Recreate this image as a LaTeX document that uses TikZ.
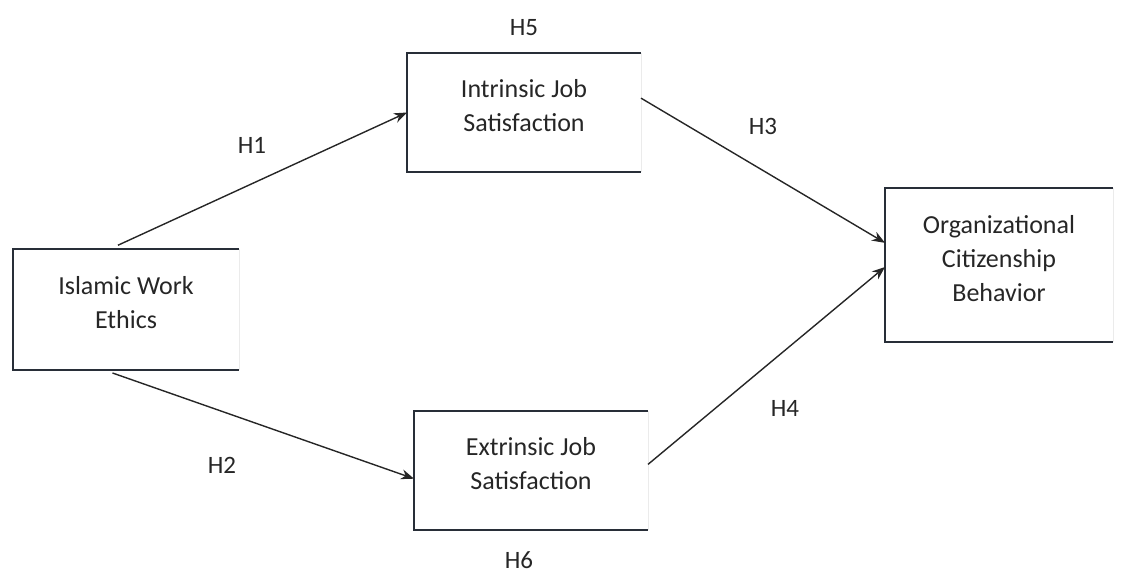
\documentclass[tikz,border=0pt]{standalone}
\usepackage{fontspec}
\setmainfont{Carlito}
\usepackage{tikz}
\usetikzlibrary{positioning, arrows.meta}

\definecolor{boxline}{RGB}{40,46,56}
\definecolor{inktext}{RGB}{38,38,38}

\begin{document}
\begin{tikzpicture}[x=1pt, y=-1pt, node distance=12pt,
        box/.style={rectangle, outer sep=0pt, minimum width=234pt, minimum height=119pt,
                    align=center, text=inktext, text depth=14pt,
                    font=\fontsize{26}{34}\selectfont},
        hyp/.style={text=inktext, font=\fontsize{25}{28}\selectfont},
        edge/.style={line width=2.8pt, draw=boxline},
        arrow/.style={-{Stealth[length=13pt, width=10pt]}, line width=1.4pt, draw=black!85}]

        \useasboundingbox (0,0) rectangle (1124,576);

        \node[box, minimum width=226pt, minimum height=121pt] (iwe) at (126,309.5) {Islamic Work\\Ethics};
        \node[box] (ijs) at (524,112.5) {Intrinsic Job\\Satisfaction};
        \node[box] (ejs) at (531,470.5) {Extrinsic Job\\Satisfaction};
        \node[box, minimum width=228pt, minimum height=154pt] (ocb) at (999,265) {Organizational\\Citizenship\\Behavior};

        % open boxes, right side only faint
        \foreach \n in {iwe, ijs, ejs, ocb} {
            \draw[edge] (\n.north east) -- (\n.north west) -- (\n.south west) -- (\n.south east);
            \draw[black!8, line width=1pt] (\n.north east) -- (\n.south east);
        }

        \draw[arrow, shorten <=9pt] (iwe.105) -- (ijs.west);
        \draw[arrow, shorten <=9pt] (iwe.250) -- (ejs.184);
        \draw[arrow] (ijs.7.5) -- (ocb.169);
        \draw[arrow] (ejs.3)   -- (ocb.181.5);

        \node[hyp] (h1) at (252,145) {H1};
        \node[hyp] (h2) at (222,465) {H2};
        \node[hyp] (h3) at (763,126) {H3};
        \node[hyp] (h4) at (785,408) {H4};
        \node[hyp, above=14pt of ijs] (h5) {H5};
        \node[hyp, below=18pt of ejs, xshift=-12pt] (h6) {H6};
\end{tikzpicture}
\end{document}
